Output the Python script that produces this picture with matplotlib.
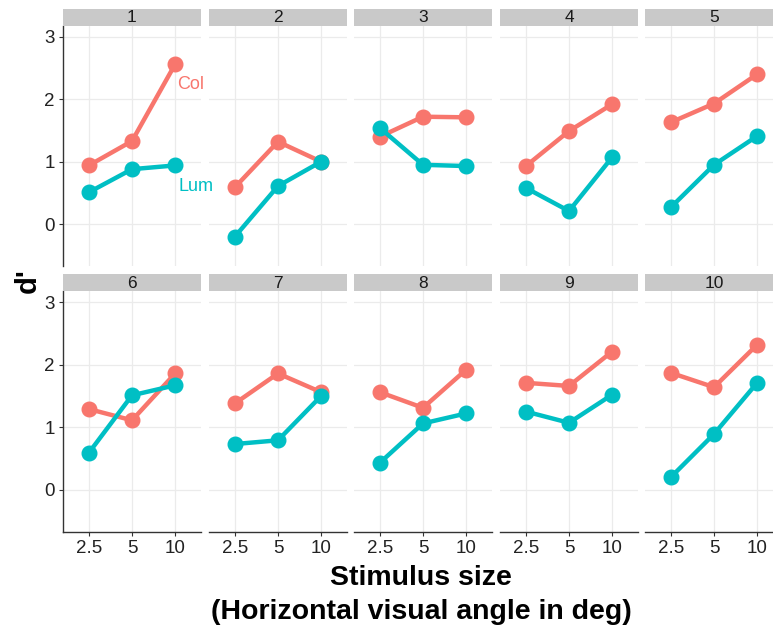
import matplotlib
matplotlib.use('Agg')
import matplotlib.pyplot as plt

plt.rcParams['font.family'] = ['Liberation Sans', 'DejaVu Sans']

# d' per observer, stimulus sizes 2.5, 5, 10 deg
sizes = ['2.5', '5', '10']
observers = ['1', '2', '3', '4', '5', '6', '7', '8', '9', '10']
col_vals = [
    [0.94, 1.33, 2.56],
    [0.59, 1.32, 1.00],
    [1.40, 1.72, 1.71],
    [0.93, 1.49, 1.92],
    [1.63, 1.93, 2.40],
    [1.29, 1.11, 1.86],
    [1.38, 1.86, 1.56],
    [1.56, 1.31, 1.92],
    [1.71, 1.66, 2.21],
    [1.87, 1.64, 2.32],
]
lum_vals = [
    [0.51, 0.88, 0.94],
    [-0.20, 0.61, 1.00],
    [1.54, 0.95, 0.93],
    [0.58, 0.21, 1.07],
    [0.27, 0.95, 1.41],
    [0.59, 1.51, 1.67],
    [0.73, 0.79, 1.50],
    [0.43, 1.06, 1.22],
    [1.25, 1.07, 1.52],
    [0.20, 0.89, 1.71],
]

COL = '#F8766D'
LUM = '#00BFC4'

W, H = 773, 628
fig = plt.figure(figsize=(W / 100, H / 100), dpi=100, facecolor='white')

lefts = [63, 209, 354, 500, 645]
pw = 138
rows = [(8.5, 25.5, 266), (274, 291, 531.5)]  # strip top, panel top, panel bottom

x = list(range(len(sizes)))
for i, obs in enumerate(observers):
    r, c = divmod(i, 5)
    st, pt, pb = rows[r]
    l = lefts[c]
    ax = fig.add_axes([l / W, 1 - pb / H, pw / W, (pb - pt) / H])
    ax.patch.set_visible(False)
    ax.set_xlim(-0.6, 2.6)
    ax.set_ylim(-0.67, 3.18)
    ax.set_xticks(x)
    ax.set_yticks([0, 1, 2, 3])
    ax.grid(True, color='#EBEBEB', linewidth=0.9)
    ax.set_axisbelow(True)
    for s in ax.spines.values():
        s.set_visible(False)
    ax.plot(x, col_vals[i], color=COL, lw=3.2, marker='o', ms=10.5, zorder=3)
    ax.plot(x, lum_vals[i], color=LUM, lw=3.2, marker='o', ms=10.5, zorder=3)
    ax.tick_params(colors='#333333', labelsize=13.5, length=3, width=0.8,
                   labelcolor='#222222', pad=3)
    if c == 0:
        ax.spines['left'].set_visible(True)
        ax.spines['left'].set_color('#333333')
        ax.spines['left'].set_linewidth(1.0)
    else:
        ax.tick_params(axis='y', left=False, labelleft=False)
    if r == 1:
        ax.spines['bottom'].set_visible(True)
        ax.spines['bottom'].set_color('#333333')
        ax.spines['bottom'].set_linewidth(1.0)
        ax.set_xticklabels(sizes)
    else:
        ax.tick_params(axis='x', bottom=False, labelbottom=False)

    sax = fig.add_axes([l / W, 1 - pt / H, pw / W, (pt - st) / H])
    sax.set_facecolor('#C9C9C9')
    sax.set_xticks([])
    sax.set_yticks([])
    for s in sax.spines.values():
        s.set_visible(False)
    sax.text(0.5, 0.45, obs, transform=sax.transAxes, ha='center',
             va='center', fontsize=12.5, color='#1A1A1A')

# direct labels for the two conditions, placed in panel 1's data coordinates
ax1 = fig.axes[0]
fig.text(2.05, 2.23, 'Col', color=COL, fontsize=13, va='center', ha='left',
         transform=ax1.transData, zorder=10)
fig.text(2.07, 0.61, 'Lum', color=LUM, fontsize=13, va='center', ha='left',
         transform=ax1.transData, zorder=10)

fig.text(421 / W, 1 - 585 / H, 'Stimulus size', ha='center', va='baseline',
         fontsize=20.5, fontweight='bold')
fig.text(421 / W, 1 - 619 / H, '(Horizontal visual angle in deg)',
         ha='center', va='baseline', fontsize=20.5, fontweight='bold')
fig.text(28 / W, 1 - 281 / H, "d'", rotation=90, ha='center', va='center',
         fontsize=21, fontweight='bold')

fig.savefig('out.png', dpi=100)
